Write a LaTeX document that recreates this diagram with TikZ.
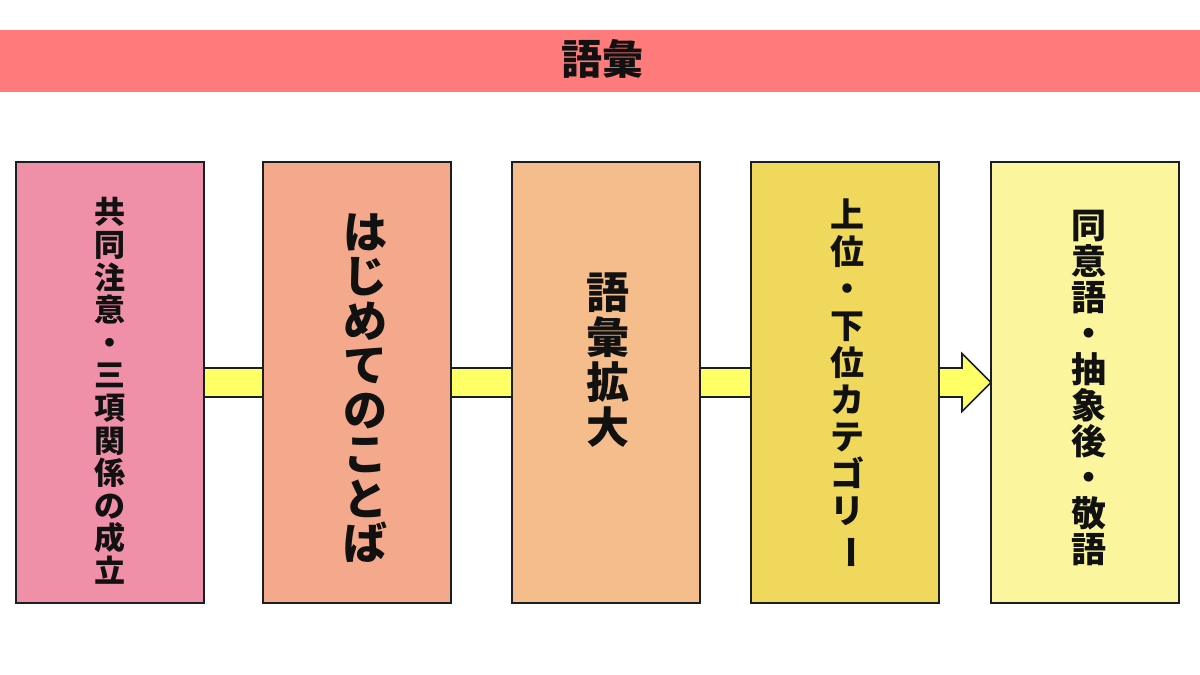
\documentclass[tikz,border=0pt]{standalone}
\usepackage{fontspec}
\newfontfamily\jp{Noto Sans CJK JP}[BoldFont={Noto Sans CJK JP Black}]
\usetikzlibrary{calc}
\pgfdeclarelayer{background}
\pgfsetlayers{background,main}
\definecolor{titlebar}{HTML}{FF7B7B}
\definecolor{cA}{HTML}{F08FA8}
\definecolor{cB}{HTML}{F4A88C}
\definecolor{cC}{HTML}{F6BD8C}
\definecolor{cD}{HTML}{F0D85C}
\definecolor{cE}{HTML}{FBF59E}
\definecolor{arrowfill}{HTML}{FFFF66}
\definecolor{edge}{HTML}{1A1F24}
\definecolor{ink}{HTML}{111111}
\newcommand{\vbar}{\rotatebox[origin=c]{-90}{ー}}
\newcommand{\vfont}[2]{\jp\bfseries\fontsize{#1}{#2}\selectfont\lineskiplimit=-100pt\relax}
\begin{document}
\begin{tikzpicture}[x=1pt,y=-1pt,
  stagebox/.style={draw=edge, line width=2pt, minimum width=188pt, minimum height=441pt, inner sep=0pt, outer sep=0pt},
  vlabel/.style={align=center, inner sep=0pt, text=ink},
  flowarrow/.style={fill=arrowfill, draw=edge, line width=1.6pt, line join=miter}
]
\useasboundingbox (0,0) rectangle (1200,675);
\begin{pgfonlayer}{background}
\fill[white] (0,0) rectangle (1200,675);
\end{pgfonlayer}
% title bar
\fill[titlebar] (0,30) rectangle (1200,92);
\node[inner sep=0pt, text=ink, font=\jp\bfseries\fontsize{41}{41}\selectfont] (title) at (602,59) {語彙};
% boxes
\node[stagebox, fill=cA] (b1) at (109.5,382.5) {};
\node[stagebox, fill=cB] (b2) at (356.5,382.5) {};
\node[stagebox, fill=cC] (b3) at (605.5,382.5) {};
\node[stagebox, fill=cD] (b4) at (844.5,382.5) {};
\node[stagebox, fill=cE] (b5) at (1085,382.5) {};
% arrow behind boxes
\coordinate (as) at ($(b1.east)+(-4,0)$);
\coordinate (at) at (b5.west);
\begin{pgfonlayer}{background}
\path[flowarrow] ($(as)+(0,-14.5)$) -- ($(at)+(-29,-14.5)$) -- ($(at)+(-29,-29)$) -- (at)
  -- ($(at)+(-29,29)$) -- ($(at)+(-29,14.5)$) -- ($(as)+(0,14.5)$) -- cycle;
\end{pgfonlayer}
% labels
\node[vlabel, font=\vfont{31}{32.6}] (t1) at (109.5,391)
  {共\\同\\注\\意\\・\\三\\項\\関\\係\\の\\成\\立};
\node[vlabel, font=\vfont{44}{44.5}] (t2) at (365,388)
  {は\\じ\\め\\て\\の\\こ\\と\\ば};
\node[vlabel, font=\vfont{43}{45}] (t3) at (608,360)
  {語\\彙\\拡\\大};
\node[vlabel, font=\vfont{34}{37}] (t4) at (847,384)
  {上\\位\\・\\下\\位\\カ\\テ\\ゴ\\リ\\\vbar};
\node[vlabel, font=\vfont{35}{36}] (t5) at (1089,388)
  {同\\意\\語\\・\\抽\\象\\後\\・\\敬\\語};
\end{tikzpicture}
\end{document}
